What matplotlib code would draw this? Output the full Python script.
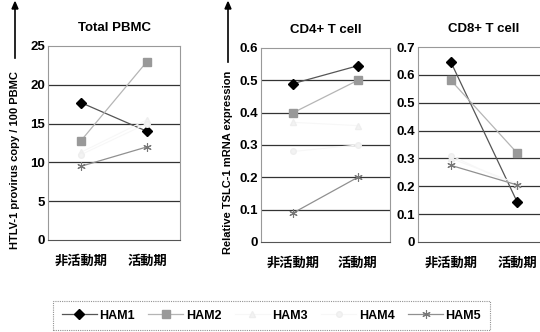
import matplotlib
matplotlib.use("Agg")
import matplotlib.pyplot as plt
from matplotlib.lines import Line2D

plt.rcParams['font.family'] = ['Liberation Sans', 'Noto Sans CJK JP', 'DejaVu Sans']

categories = ['非活動期', '活動期']
series = ['HAM1', 'HAM2', 'HAM3', 'HAM4', 'HAM5']

pbmc = {
    'HAM1': [17.7, 14.0],
    'HAM2': [12.8, 23.0],
    'HAM3': [11.3, 15.5],
    'HAM4': [11.0, 15.0],
    'HAM5': [9.5, 12.0],
}
cd4 = {
    'HAM1': [0.49, 0.545],
    'HAM2': [0.40, 0.50],
    'HAM3': [0.37, 0.36],
    'HAM4': [0.28, 0.30],
    'HAM5': [0.09, 0.20],
}
cd8 = {
    'HAM1': [0.645, 0.145],
    'HAM2': [0.58, 0.32],
    'HAM3': [0.30, 0.21],
    'HAM4': [0.31, 0.20],
    'HAM5': [0.275, 0.205],
}

titles = ['Total PBMC', 'CD4+ T cell', 'CD8+ T cell']
yticks = [[0, 5, 10, 15, 20, 25],
          [0, 0.1, 0.2, 0.3, 0.4, 0.5, 0.6],
          [0, 0.1, 0.2, 0.3, 0.4, 0.5, 0.6, 0.7]]
ytick_labels = [['0', '5', '10', '15', '20', '25'],
                ['0', '0.1', '0.2', '0.3', '0.4', '0.5', '0.6'],
                ['0', '0.1', '0.2', '0.3', '0.4', '0.5', '0.6', '0.7']]

styles = {
    'HAM1': dict(color='#555555', marker='D', mfc='black', mec='black', ms=5, lw=0.9),
    'HAM2': dict(color='#b5b5b5', marker='s', mfc='#999999', mec='#999999', ms=6, lw=0.9),
    'HAM3': dict(color='#f7f7f7', marker='^', mfc='#f3f3f3', mec='#eeeeee', ms=5, lw=0.8),
    'HAM4': dict(color='#f7f7f7', marker='o', mfc='#f3f3f3', mec='#eeeeee', ms=4, lw=0.8),
    'HAM5': dict(color='#909090', marker=(6, 2, 0), mfc='#777777', mec='#777777', ms=6, lw=0.9, mew=0.8),
}

W, H = 540, 332
fig = plt.figure(figsize=(W / 100, H / 100), dpi=100)

def px_axes(l, r, t, b):
    return fig.add_axes([l / W, 1 - b / H, (r - l) / W, (b - t) / H])

boxes = [(48, 180, 46, 240), (261, 390, 48, 242), (418, 550, 47, 242)]
datas = [pbmc, cd4, cd8]

for i, (box, data) in enumerate(zip(boxes, datas)):
    ax = px_axes(*box)
    xs = [1, 2]
    for s in series:
        ax.plot(xs, data[s], **styles[s], zorder=3)
    ax.set_xlim(0.5, 2.5)
    ax.set_ylim(yticks[i][0], yticks[i][-1])
    ax.set_yticks(yticks[i])
    ax.set_yticklabels(ytick_labels[i], fontsize=9.5, fontweight='bold')
    ax.set_xticks(xs)
    ax.set_xticklabels(categories, fontsize=9.5, fontweight='bold',
                       family=['Noto Sans CJK JP', 'DejaVu Sans'])
    ax.tick_params(axis='x', length=0, pad=10)
    ax.tick_params(axis='y', length=0, pad=2)
    for yv in yticks[i][1:-1]:
        ax.axhline(yv, color='#333333', lw=0.9, zorder=1)
    for sp in ax.spines.values():
        sp.set_linestyle((0, (1, 1)))
        sp.set_color('#999999')
        sp.set_linewidth(0.8)
    ax.spines['bottom'].set_color('#555555')
    ax.set_title(titles[i], fontsize=9.5, fontweight='bold', pad=11)

# Y-axis labels with arrows
fig.text(15 / W, 1 - 160 / H, 'HTLV-1 provirus copy / 100 PBMC', rotation=90,
         ha='center', va='center', fontsize=8, fontweight='bold')
fig.add_artist(Line2D([15 / W, 15 / W], [1 - 58 / H, 1 - 6 / H], color='black', lw=1.2))
fig.add_artist(plt.Polygon([[12 / W, 1 - 9 / H], [18 / W, 1 - 9 / H], [15 / W, 1 - 2 / H]],
                           closed=True, color='black'))

fig.text(228 / W, 1 - 162 / H, 'Relative TSLC-1 mRNA expression', rotation=90,
         ha='center', va='center', fontsize=8, fontweight='bold')
fig.add_artist(Line2D([228 / W, 228 / W], [1 - 62 / H, 1 - 6 / H], color='black', lw=1.2))
fig.add_artist(plt.Polygon([[225 / W, 1 - 9 / H], [231 / W, 1 - 9 / H], [228 / W, 1 - 2 / H]],
                           closed=True, color='black'))

# Legend
handles = [Line2D([], [], **styles[s]) for s in series]
leg = fig.legend(handles, series, loc='upper left',
                 bbox_to_anchor=(53 / W, 1 - 341 / H, 437 / W, 40 / H),
                 mode='expand', ncol=5, frameon=True, handlelength=2.8,
                 handletextpad=0.2, borderpad=0.7, borderaxespad=0,
                 prop=dict(weight='bold', size=9))
leg.get_frame().set_edgecolor('#777777')
leg.get_frame().set_linestyle((0, (1, 1)))
leg.get_frame().set_linewidth(0.8)
leg.get_frame().set_boxstyle('square', pad=0)

fig.savefig('out.png', dpi=100)
